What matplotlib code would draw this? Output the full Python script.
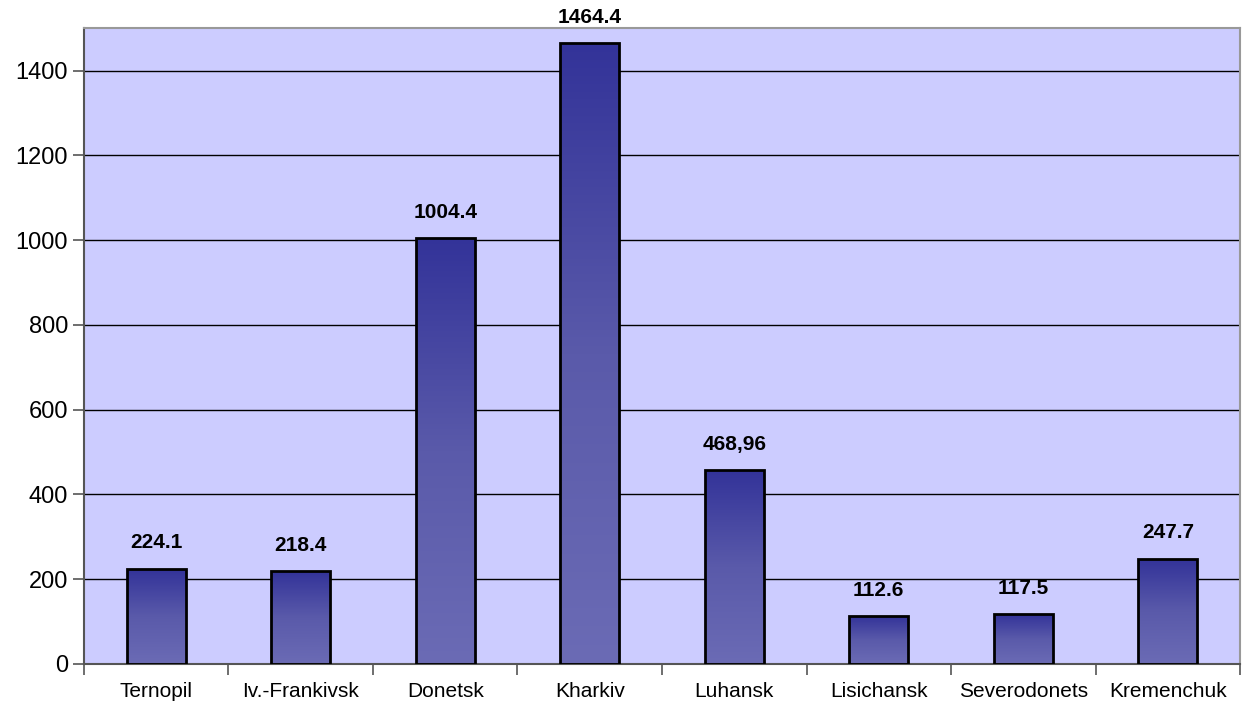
import numpy as np
import matplotlib
matplotlib.use("Agg")
import matplotlib.pyplot as plt
from matplotlib.colors import LinearSegmentedColormap

categories = ["Ternopil", "Iv.-Frankivsk", "Donetsk", "Kharkiv", "Luhansk",
              "Lisichansk", "Severodonets", "Kremenchuk"]
values = [224.1, 218.4, 1004.4, 1464.4, 457.0, 112.6, 117.5, 247.7]
value_labels = ["224.1", "218.4", "1004.4", "1464.4", "468,96", "112.6", "117.5", "247.7"]
yticks = [0, 200, 400, 600, 800, 1000, 1200, 1400]

plt.rcParams['font.family'] = ['Liberation Sans', 'DejaVu Sans']

fig = plt.figure(figsize=(12.44, 7.06), dpi=100)
ax = fig.add_axes([0.0675, 0.0595, 0.9293, 0.9005])
ax.set_facecolor("#CCCCFF")

for y in yticks[1:]:
    ax.axhline(y, color="black", lw=1.0, zorder=1)

cmap = LinearSegmentedColormap.from_list("g", ["#6B6BB5", "#5A5AAA", "#333399"])
grad = np.linspace(0, 1, 256).reshape(-1, 1)
width = 0.41
for i, v in enumerate(values):
    ax.imshow(grad, cmap=cmap, origin="lower", aspect="auto",
              extent=(i - width / 2, i + width / 2, 0, v), zorder=2)
    ax.bar(i, v, width=width, facecolor="none", edgecolor="black", lw=2, zorder=3)
    ax.annotate(value_labels[i], (i, v), xytext=(0, 12), textcoords="offset points",
                ha="center", va="bottom", fontsize=15, fontweight="bold", zorder=4)

ax.set_xlim(-0.5, len(categories) - 0.5)
ax.set_ylim(0, 1500)
ax.set_yticks(yticks)
ax.set_yticklabels([str(t) for t in yticks], fontsize=17)
ax.set_xticks(range(len(categories)))
ax.set_xticklabels(categories, fontsize=15)
ax.tick_params(axis="x", length=0, pad=13)
ax.set_xticks(np.arange(-0.5, len(categories), 1), minor=True)
ax.tick_params(axis="x", which="minor", length=8, color="#555555", width=1.2)
ax.tick_params(axis="y", length=8, color="#555555", width=1.2)
for s in ["left", "bottom"]:
    ax.spines[s].set_color("#555555")
    ax.spines[s].set_linewidth(1.5)
for s in ["top", "right"]:
    ax.spines[s].set_color("#999999")
    ax.spines[s].set_linewidth(1.5)

fig.savefig("out.png", dpi=100)
